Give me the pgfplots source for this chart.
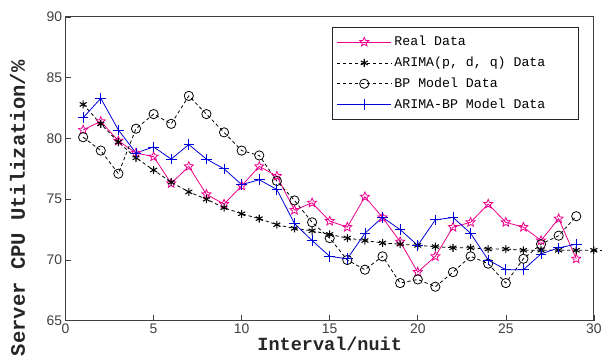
\documentclass[border=0pt]{standalone}
\usepackage{fontspec}
\setmainfont{Liberation Sans}
\newfontfamily\monofont{Liberation Mono}
\usepackage{pgfplots}
\pgfplotsset{compat=1.18}
\pgfdeclareplotmark{pentagram}{%
  \pgfpathmoveto{\pgfqpointpolar{90}{\pgfplotmarksize}}%
  \pgfpathlineto{\pgfqpointpolar{126}{0.45\pgfplotmarksize}}%
  \pgfpathlineto{\pgfqpointpolar{162}{\pgfplotmarksize}}%
  \pgfpathlineto{\pgfqpointpolar{198}{0.45\pgfplotmarksize}}%
  \pgfpathlineto{\pgfqpointpolar{234}{\pgfplotmarksize}}%
  \pgfpathlineto{\pgfqpointpolar{270}{0.45\pgfplotmarksize}}%
  \pgfpathlineto{\pgfqpointpolar{306}{\pgfplotmarksize}}%
  \pgfpathlineto{\pgfqpointpolar{342}{0.45\pgfplotmarksize}}%
  \pgfpathlineto{\pgfqpointpolar{18}{\pgfplotmarksize}}%
  \pgfpathlineto{\pgfqpointpolar{54}{0.45\pgfplotmarksize}}%
  \pgfpathclose
  \pgfusepathqstroke}
\begin{document}
\begin{tikzpicture}
\begin{axis}[
  scale only axis,
  width=399pt, height=229.5pt,
  xmin=0, xmax=30, ymin=65, ymax=90,
  xtick={0,5,...,30}, ytick={65,70,...,90},
  tick pos=left, tick align=inside,
  major tick length=4pt,
  /pgf/number format/assume math mode=true,
  ticklabel style={font=\fontsize{10.5}{12}\selectfont, text=black!75},
  xticklabel style={yshift=1pt},
  yticklabel style={xshift=1pt},
  axis line style={black!75, line width=0.8pt},
  every tick/.style={black!75},
  xlabel={Interval/nuit}, ylabel={Server CPU Utilization/\%},
  xlabel style={font=\monofont\bfseries\fontsize{14}{16}\selectfont, at={(axis description cs:0.5,-0.053)}, anchor=north, inner sep=0pt, text=black!85},
  ylabel style={font=\monofont\bfseries\fontsize{15.5}{17}\selectfont, at={(axis description cs:-0.076,0.37)}, anchor=south, inner sep=0pt, text=black!85},
  legend style={at={(axis cs:29.15,89.2)}, anchor=north east, font=\monofont\fontsize{10}{12}\selectfont, draw=black!85, line width=0.6pt, inner xsep=3pt, inner ysep=5pt, row sep=3pt,
    legend image code/.code={\draw[mark repeat=2,mark phase=2,#1] plot coordinates {(0cm,0cm) (0.72cm,0cm) (1.44cm,0cm)};}},
  legend cell align=left,
  clip=false,
]
\addplot[magenta, line width=0.6pt, mark=pentagram, mark size=3.6pt, mark options={solid}] coordinates {
(1,80.7)(2,81.4)(3,79.8)(4,78.8)(5,78.5)(6,76.3)(7,77.7)(8,75.4)(9,74.6)(10,76.1)
(11,77.7)(12,76.9)(13,74.1)(14,74.7)(15,73.2)(16,72.7)(17,75.2)(18,73.5)(19,71.5)(20,69.0)
(21,70.3)(22,72.7)(23,73.1)(24,74.6)(25,73.1)(26,72.7)(27,71.6)(28,73.4)(29,70.1)};
\addlegendentry{Real Data}
\addplot[black, line width=0.6pt, dash pattern=on 2.5pt off 2pt, mark=asterisk, mark size=3pt, mark options={solid, line width=0.8pt}] coordinates {
(1,82.8)(2,81.2)(3,79.7)(4,78.4)(5,77.4)(6,76.4)(7,75.6)(8,75.0)(9,74.3)(10,73.8)
(11,73.4)(12,72.9)(13,72.6)(14,72.4)(15,72.1)(16,71.8)(17,71.6)(18,71.4)(19,71.3)(20,71.2)
(21,71.1)(22,71.0)(23,71.0)(24,70.9)(25,70.9)(26,70.8)(27,70.8)(28,70.8)(29,70.8)(30,70.8)};
\addlegendentry{ARIMA(p, d, q) Data}
\addplot[black, line width=0.6pt, dash pattern=on 2.5pt off 2pt, mark=o, mark size=3.5pt, mark options={solid}] coordinates {
(1,80.1)(2,79.0)(3,77.1)(4,80.8)(5,82.0)(6,81.2)(7,83.5)(8,82.0)(9,80.5)(10,79.0)
(11,78.6)(12,76.5)(13,74.9)(14,73.1)(15,71.8)(16,70.0)(17,69.2)(18,70.3)(19,68.1)(20,68.4)
(21,67.8)(22,69.0)(23,70.3)(24,69.7)(25,68.1)(26,70.1)(27,71.3)(28,72.0)(29,73.6)};
\addlegendentry{BP Model Data}
\addplot[blue!85!black, line width=0.6pt, mark=+, mark size=4pt, mark options={solid}] coordinates {
(1,81.7)(2,83.3)(3,80.7)(4,78.8)(5,79.3)(6,78.3)(7,79.5)(8,78.3)(9,77.5)(10,76.2)
(11,76.6)(12,75.8)(13,73.0)(14,71.6)(15,70.3)(16,70.1)(17,72.2)(18,73.5)(19,72.5)(20,71.2)
(21,73.3)(22,73.5)(23,72.2)(24,70.0)(25,69.2)(26,69.2)(27,70.5)(28,71.0)(29,71.3)};
\addlegendentry{\makebox[134pt][l]{ARIMA-BP Model Data}}
\addplot[black, line width=0.6pt, dash pattern=on 2.5pt off 2pt, forget plot] coordinates {(30,70.8)(30.45,70.8)};
\end{axis}
\path[use as bounding box] ([xshift=-49.5pt,yshift=-27.75pt]current axis.south west) rectangle ([xshift=6pt,yshift=12.75pt]current axis.north east);
\end{tikzpicture}
\end{document}
